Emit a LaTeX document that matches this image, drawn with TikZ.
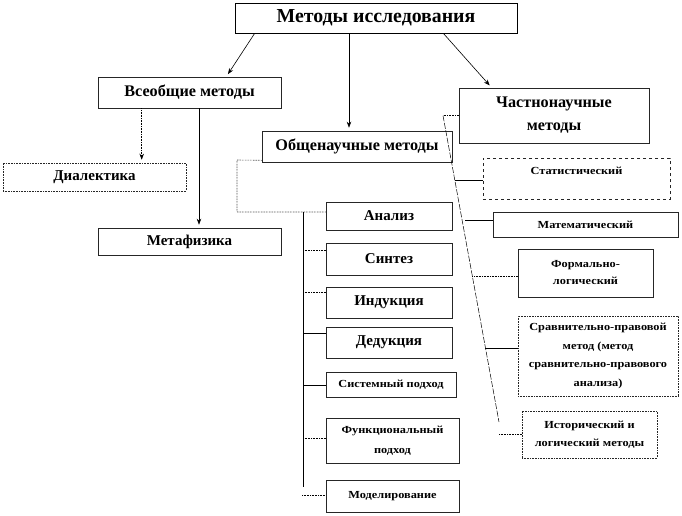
\documentclass[tikz,border=0pt]{standalone}
\usepackage{fontspec}
\setmainfont{Liberation Serif}
\newfontfamily\widefont[FakeStretch=1.14]{Liberation Serif}
\usetikzlibrary{calc,arrows.meta}
\begin{document}
\begin{tikzpicture}[x=1pt,y=-1pt,
  box/.style={draw=black!85, line width=0.6pt, rectangle, inner sep=0pt, align=center, font=\bfseries\fontsize{15}{17}\selectfont},
  head/.style={font=\bfseries\fontsize{16.2}{23}\selectfont},
  small/.style={font=\widefont\bfseries\fontsize{10.8}{18.5}\selectfont},
  lab/.style={inner sep=0pt, align=center},
  arr/.style={line width=0.6pt, -{Stealth[length=6pt,width=4.5pt]}, shorten >=3pt},
  con/.style={line width=0.6pt},
  dcon/.style={line width=0.6pt, densely dotted},
  slant/.style={line width=0.5pt, dash pattern=on 6pt off 1.5pt}]
\useasboundingbox (0,0) rectangle (682,515);
\fill[white] (0,0) rectangle (682,515);

% boxes
\node[box, draw=black, minimum width=282pt, minimum height=30pt, font=\bfseries\fontsize{19.8}{22}\selectfont] (top) at (376,18) {Методы исследования};
\node[box, head, minimum width=183pt, minimum height=31pt] (vse) at (189.5,92.5) {Всеобщие методы};
\node[box, minimum width=183pt, minimum height=28pt, densely dotted] (dial) at (94.5,177) {Диалектика};
\node[box, minimum width=183pt, minimum height=27pt] (meta) at (189.5,241.5) {Метафизика};
\node[box, head, minimum width=190pt, minimum height=31pt] (obsh) at (357,146.5) {Общенаучные методы};
\node[box, head, minimum width=190pt, minimum height=55pt] (chast) at (554,115.5) {Частнонаучные\\методы};

\node[box, minimum width=187pt, minimum height=41pt, dashed] (stat) at (576.5,178.5) {};
\node[lab, small] (stattxt) at (576.5,171) {Статистический};
\node[box, small, minimum width=185pt, minimum height=25pt] (mat) at (585.5,224.5) {Математический};
\node[box, small, minimum width=135pt, minimum height=48pt, font=\widefont\bfseries\fontsize{10.8}{17}\selectfont] (form) at (585.5,273) {Формально-\\логический};
\node[box, small, minimum width=160pt, minimum height=80pt, densely dotted] (srav) at (598,356) {Сравнительно-правовой\\метод (метод\\сравнительно-правового\\анализа)};
\node[box, small, minimum width=135pt, minimum height=47pt, densely dotted] (ist) at (589.5,434.5) {Исторический и\\логический методы};

\node[box, minimum width=126pt, minimum height=28pt] (anal) at (389,216) {Анализ};
\node[box, minimum width=126pt, minimum height=32pt] (sint) at (389,259) {Синтез};
\node[box, minimum width=126pt, minimum height=31pt] (ind) at (389,302.5) {Индукция};
\node[box, minimum width=126pt, minimum height=31pt] (ded) at (389,342.5) {Дедукция};
\node[box, small, minimum width=130pt, minimum height=25pt] (sys) at (391,384.5) {Системный подход};
\node[box, small, minimum width=133pt, minimum height=45pt, font=\widefont\bfseries\fontsize{10.8}{20}\selectfont] (func) at (392.5,440.5) {Функциональный\\подход};
\node[box, small, minimum width=133pt, minimum height=32pt] (model) at (392.5,496) {Моделирование};

% arrows from the top
\draw[arr] ([xshift=20pt]top.south west) -- ([xshift=-55pt]vse.north east);
\draw[arr] ([xshift=-27pt]top.south) -- ([xshift=-27pt]top.south |- obsh.north);
\draw[arr] ([xshift=-74pt]top.south east) -- ([xshift=33pt]chast.north west);
\draw[arr, densely dotted] ([xshift=44pt]vse.south west) -- ([xshift=44pt]vse.south west |- dial.north);
\draw[arr] ([xshift=9.5pt]vse.south) -- ([xshift=9.5pt]vse.south |- meta.north);

% general scientific methods
\coordinate (b1) at (237,160);
\coordinate (b2) at (237,212);
\coordinate (t0) at (303,212);
\coordinate (tend) at (303,487);
\coordinate (t2) at (303,250);
\coordinate (t3) at (303,292);
\coordinate (t4) at (303,333);
\coordinate (t5) at (303,385);
\coordinate (t6) at (303,438);
\coordinate (t7) at (302,495);
\draw[dcon] ([yshift=2pt]obsh.south west) -- (b1) -- (b2) -- (b2 -| anal.west);
\draw[con] (t0) -- (tend);
\draw[dcon] (t2) -- (t2 -| sint.west);
\draw[dcon] (t3) -- (t3 -| ind.west);
\draw[con] (t4) -- (t4 -| ded.west);
\draw[con] (t5) -- (t5 -| sys.west);
\draw[dcon] (t6) -- (t6 -| func.west);
\draw[dcon] (t7) -- (t7 -| model.west);

% particular scientific methods
\coordinate (s1) at (443,115.5);
\coordinate (s2) at (499,422);
\draw[dcon] (chast.west) -- (s1);
\draw[slant] (s1) -- (s2);
\coordinate (p1) at ($(s1)!0.2104!(s2)$);
\coordinate (p2) at ($(s1)!0.3409!(s2)+(3,0)$);
\coordinate (p3) at ($(s1)!0.5237!(s2)$);
\coordinate (p4) at ($(s1)!0.7586!(s2)$);
\coordinate (q) at (499,434);
\draw[con] (p1) -- (p1 -| stat.west);
\draw[con] (p2) -- (p2 -| mat.west);
\draw[dcon] (p3) -- (p3 -| form.west);
\draw[con] (p4) -- (p4 -| srav.west);
\draw[dcon] (q) -- (q -| ist.west);
\end{tikzpicture}
\end{document}
